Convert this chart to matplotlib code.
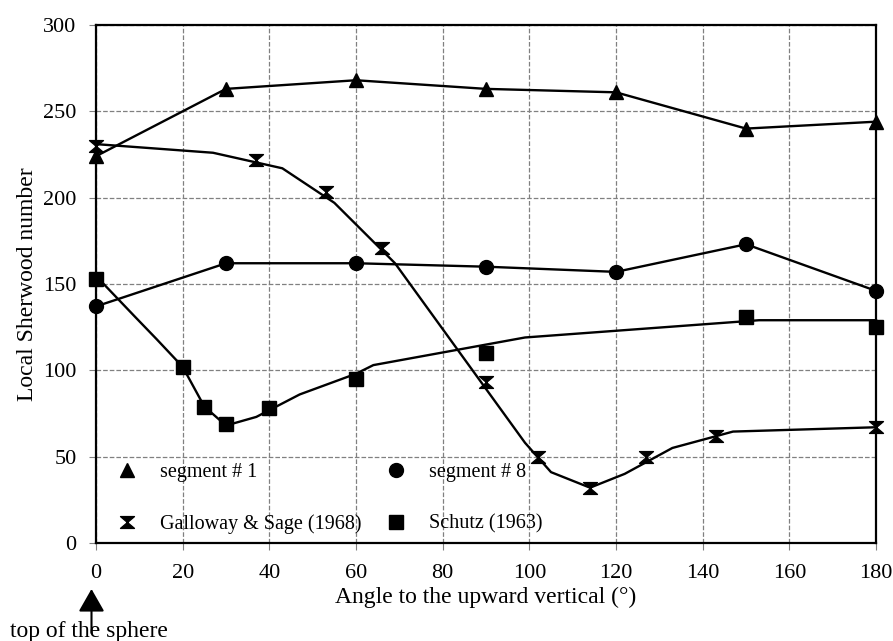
import numpy as np
import matplotlib.pyplot as plt
from matplotlib.path import Path
from matplotlib.lines import Line2D

plt.rcParams['font.family'] = ['Liberation Serif', 'DejaVu Serif']

# segment data (measured)
seg_angle = [0, 30, 60, 90, 120, 150, 180]
seg1 = [224, 263, 268, 263, 261, 240, 244]
seg8 = [137, 162, 162, 160, 157, 173, 146]

# Galloway & Sage (1968)
gs_angle = [0, 37, 53, 66, 90, 102, 114, 127, 143, 180]
gs_sh = [230, 222, 203, 171, 93, 50, 32, 50, 62, 67]
gs_fit_angle = [0, 27, 43, 55, 69, 99, 105, 114, 122, 133, 147, 180]
gs_fit = [231, 226, 217, 197, 162, 58, 41, 32, 40, 55, 64.5, 67]

# Schutz (1963)
sc_angle = [0, 20, 25, 30, 40, 60, 90, 150, 180]
sc_sh = [153, 102, 79, 69, 78, 95, 110, 131, 125]
sc_fit_angle = [1, 9, 14, 20, 25, 30, 37, 47, 60, 64, 99, 153, 180]
sc_fit = [152, 131, 118, 102, 79, 68, 73, 86, 98, 103, 119, 129, 129]

# hourglass marker
hourglass = Path([(-1, 0.85), (1, 0.85), (-1, -0.85), (1, -0.85), (-1, 0.85)],
                 [Path.MOVETO, Path.LINETO, Path.LINETO, Path.LINETO, Path.CLOSEPOLY])

fig = plt.figure(figsize=(8.93, 6.41), dpi=100)
ax = fig.add_axes([0.1075, 0.153, 0.8735, 0.808])

lw = 1.7
ax.plot(seg_angle, seg1, color='black', lw=lw, marker='^', ms=10, zorder=3, clip_on=False)
ax.plot(seg_angle, seg8, color='black', lw=lw, marker='o', ms=10, zorder=3, clip_on=False)
ax.plot(gs_fit_angle, gs_fit, color='black', lw=lw, zorder=3, clip_on=False)
ax.plot(gs_angle, gs_sh, ls='none', color='black', marker=hourglass, ms=10, zorder=4, clip_on=False)
ax.plot(sc_fit_angle, sc_fit, color='black', lw=lw, zorder=3, clip_on=False)
ax.plot(sc_angle, sc_sh, ls='none', color='black', marker='s', ms=9.5, zorder=4, clip_on=False)

ax.set_xlim(0, 180)
ax.set_ylim(0, 300)
ax.set_xticks(np.arange(0, 181, 20))
ax.set_yticks(np.arange(0, 301, 50))
ax.grid(True, ls='--', color='gray', lw=0.9)
for s in ax.spines.values():
    s.set_linewidth(1.6)
ax.tick_params(axis='both', direction='out', length=5, color='gray', labelsize=16)
ax.tick_params(axis='y', pad=9)
ax.tick_params(axis='x', pad=10)

ax.set_xlabel("Angle to the upward vertical (°)", fontsize=17, labelpad=3)
ax.set_ylabel("Local Sherwood number", fontsize=17, labelpad=4)

handles = [
    Line2D([], [], ls='none', marker='^', color='black', ms=10),
    Line2D([], [], ls='none', marker=hourglass, color='black', ms=10),
    Line2D([], [], ls='none', marker='o', color='black', ms=10),
    Line2D([], [], ls='none', marker='s', color='black', ms=9.5),
]
labels = ["segment # 1", "Galloway & Sage (1968)", "segment # 8", "Schutz (1963)"]
ax.legend(handles, labels, ncol=2, frameon=False, loc='lower left',
          bbox_to_anchor=(0.027, 0.017), fontsize=14.5, labelspacing=1.6,
          handlelength=1.0, handletextpad=1.15, columnspacing=1.2,
          borderaxespad=0, borderpad=0)

fig.text(0.011, 0.006, "top of the sphere", fontsize=17, va='baseline')
ax.annotate("", xy=(91.5 / 893, 1 - 589 / 641), xycoords='figure fraction',
            xytext=(91.5 / 893, 1 - 633 / 641), textcoords='figure fraction',
            arrowprops=dict(arrowstyle='-|>,head_length=1.4,head_width=0.8',
                            color='black', lw=1.5, shrinkA=0, shrinkB=0))

plt.savefig("out.png", dpi=100)
